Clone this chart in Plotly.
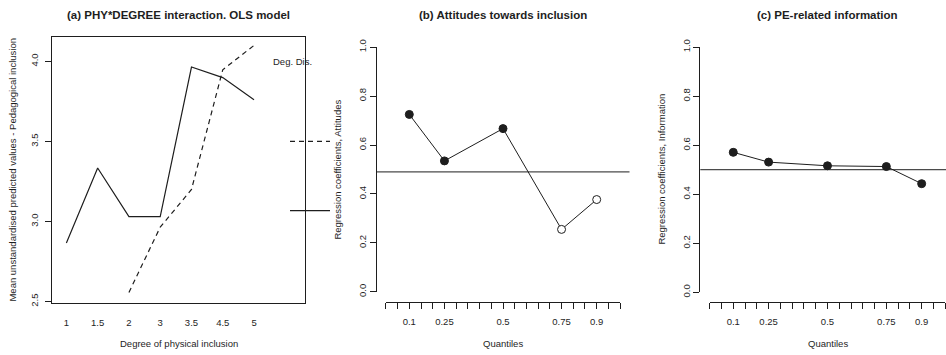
import plotly.graph_objects as go

W, H = 946, 355

# ---------------- data ----------------
# Panel (a): interaction plot
phy_levels = ["1", "1.5", "2", "3", "3.5", "4.5", "5"]
solid_levels = ["1", "1.5", "2", "3", "3.5", "4.5", "5"]
solid_values = [2.866, 3.334, 3.031, 3.031, 3.965, 3.899, 3.761]
dashed_levels = ["2", "3", "3.5", "4.5", "5"]
dashed_values = [2.557, 2.965, 3.200, 3.948, 4.100]
legend_title = "Deg. Dis."
a_yticks = [2.5, 3.0, 3.5, 4.0]

# Panels (b) and (c): quantile regression coefficients
quantiles = [0.1, 0.25, 0.5, 0.75, 0.9]
att_coef = [0.725, 0.535, 0.667, 0.255, 0.377]
att_signif = [True, True, True, False, False]
att_ols = 0.49
info_coef = [0.571, 0.531, 0.516, 0.513, 0.443]
info_signif = [True, True, True, True, True]
info_ols = 0.50
q_yticks = [0.0, 0.2, 0.4, 0.6, 0.8, 1.0]

titles = ["(a) PHY*DEGREE interaction. OLS model",
          "(b) Attitudes towards inclusion",
          "(c) PE-related information"]
xtitles = ["Degree of physical inclusion", "Quantiles", "Quantiles"]
ytitles = ["Mean unstandardised predicted values - Pedagogical inclusion",
           "Regression coefficients, Attitudes",
           "Regression coefficients, Information"]

# ---------------- style ----------------
INK = "#1e1e1e"
FONT = "Liberation Sans, Arial, Helvetica, sans-serif"
FS = 9.5


def px_x(p):
    return p / W


def px_y(p):
    return 1 - p / H


def sub_domain(dom, rng, a, b):
    lo, hi = dom
    r0, r1 = rng
    f = lambda v: lo + (v - r0) / (r1 - r0) * (hi - lo)
    return [max(0.0, f(a)), min(1.0, f(b))]


# plot regions (pixels)
a_xdom = [px_x(52), px_x(305)]
a_ydom = [px_y(306), px_y(37)]
b_xdom = [px_x(376.5), px_x(629.5)]
b_ydom = [px_y(305), px_y(37.8)]
c_xdom = [px_x(700.3), 1.0]
c_ydom = [px_y(305.5), px_y(37.8)]

a_xrange = [0.54, 8.63]
a_yrange = [2.494, 4.155]
q_xrange = [-0.04, 1.04]
c_xrange = [-0.04, 1.0033]
q_yrange = [-0.04, 1.04]

fig = go.Figure()

# ---- panel (a) traces
pos = {lvl: i + 1 for i, lvl in enumerate(phy_levels)}
fig.add_trace(go.Scatter(x=[pos[l] for l in solid_levels], y=solid_values,
                         mode="lines", line=dict(color=INK, width=1.2),
                         xaxis="x", yaxis="y", showlegend=False, hoverinfo="skip"))
fig.add_trace(go.Scatter(x=[pos[l] for l in dashed_levels], y=dashed_values,
                         mode="lines", line=dict(color=INK, width=1.2, dash="5px,4px"),
                         xaxis="x", yaxis="y", showlegend=False, hoverinfo="skip"))


def q_traces(xa, ya, coef, signif):
    fig.add_trace(go.Scatter(x=quantiles, y=coef, mode="lines",
                             line=dict(color=INK, width=1),
                             xaxis=xa, yaxis=ya, showlegend=False, hoverinfo="skip"))
    fig.add_trace(go.Scatter(x=quantiles, y=coef, mode="markers",
                             marker=dict(size=8,
                                         color=[INK if s else "white" for s in signif],
                                         line=dict(color=INK, width=1)),
                             xaxis=xa, yaxis=ya, showlegend=False, hoverinfo="skip"))


q_traces("x2", "y2", att_coef, att_signif)
q_traces("x3", "y3", info_coef, info_signif)

# empty traces to carry the decorative axis-line axes
for xa, ya in [("x4", "y2"), ("x2", "y4"), ("x5", "y3"), ("x3", "y5")]:
    fig.add_trace(go.Scatter(x=[], y=[], xaxis=xa, yaxis=ya, showlegend=False,
                             hoverinfo="skip"))

tickfont = dict(family=FONT, size=FS, color=INK)

layout = dict(
    width=W, height=H, autosize=False,
    margin=dict(l=0, r=0, t=0, b=0),
    paper_bgcolor="white", plot_bgcolor="rgba(0,0,0,0)",
    font=dict(family=FONT, size=FS, color=INK),
    showlegend=False,
)

# panel (a) axes: full box
layout["xaxis"] = dict(domain=a_xdom, range=a_xrange, anchor="y",
                       tickmode="array", tickvals=[pos[l] for l in phy_levels],
                       ticktext=phy_levels, ticks="outside", ticklen=6,
                       tickcolor="rgba(0,0,0,0)", tickfont=tickfont,
                       ticklabelstandoff=5,
                       showline=True, mirror=True, linecolor=INK, linewidth=1,
                       showgrid=False, zeroline=False)
layout["yaxis"] = dict(domain=a_ydom, range=a_yrange, anchor="x",
                       tickmode="array", tickvals=a_yticks,
                       ticktext=[f"{v:.1f}" for v in a_yticks],
                       ticks="outside", ticklen=6, tickcolor=INK, tickangle=-90,
                       tickfont=tickfont, ticklabelstandoff=3,
                       showline=True, mirror=True, linecolor=INK, linewidth=1,
                       showgrid=False, zeroline=False)


def q_axes(xn, yn, xdom, ydom, xrng):
    layout["xaxis" + xn] = dict(domain=xdom, range=xrng, anchor="y" + xn,
                                tickmode="array", tickvals=quantiles,
                                ticktext=[str(q) for q in quantiles],
                                ticks="outside", ticklen=6, tickcolor=INK,
                                minor=dict(ticks="outside", tick0=0, dtick=0.05,
                                           ticklen=6, tickcolor=INK, showgrid=False),
                                tickfont=tickfont, ticklabelstandoff=5, showline=False,
                                showgrid=False, zeroline=False)
    layout["yaxis" + yn] = dict(domain=ydom, range=q_yrange, anchor="x" + xn,
                                tickmode="array", tickvals=q_yticks,
                                ticktext=[f"{v:.1f}" for v in q_yticks],
                                ticks="outside", ticklen=6, tickcolor=INK,
                                tickangle=-90, tickfont=tickfont,
                                showline=False, showgrid=False, zeroline=False)


q_axes("2", "2", b_xdom, b_ydom, q_xrange)
q_axes("3", "3", c_xdom, c_ydom, c_xrange)


def line_axes(xn_line, yn_line, xn_main, yn_main, xdom, ydom, xrng):
    layout["xaxis" + xn_line] = dict(domain=sub_domain(xdom, xrng, 0, 1), range=[0, 1],
                                     anchor="y" + yn_main, showline=True, linecolor=INK,
                                     linewidth=1, ticks="", showticklabels=False,
                                     showgrid=False, zeroline=False)
    layout["yaxis" + yn_line] = dict(domain=sub_domain(ydom, q_yrange, 0, 1), range=[0, 1],
                                     anchor="x" + xn_main, showline=True, linecolor=INK,
                                     linewidth=1, ticks="", showticklabels=False,
                                     showgrid=False, zeroline=False)


line_axes("4", "4", "2", "2", b_xdom, b_ydom, q_xrange)
line_axes("5", "5", "3", "3", c_xdom, c_ydom, c_xrange)

shapes = []
# OLS reference lines (abline h=)
for xa, ya, val in [("x2", "y2", att_ols), ("x3", "y3", info_ols)]:
    shapes.append(dict(type="line", xref=xa + " domain", x0=0, x1=1,
                       yref=ya, y0=val, y1=val, line=dict(color=INK, width=1)))
# legend keys of panel (a)
shapes.append(dict(type="line", xref="paper", yref="paper",
                   x0=px_x(290), x1=px_x(330), y0=px_y(143), y1=px_y(143),
                   line=dict(color=INK, width=1.2, dash="5px,4px")))
shapes.append(dict(type="line", xref="paper", yref="paper",
                   x0=px_x(290), x1=px_x(330), y0=px_y(213), y1=px_y(213),
                   line=dict(color=INK, width=1.2)))
layout["shapes"] = shapes

ann = []
title_cx = [178.5, 503, 827.5]
for t, cx in zip(titles, title_cx):
    ann.append(dict(text=f"<b>{t}</b>", x=px_x(cx), y=px_y(15), xref="paper", yref="paper",
                    showarrow=False, xanchor="center", yanchor="middle",
                    font=dict(family=FONT, size=11.5, color=INK)))
for t, cx in zip(xtitles, title_cx):
    ann.append(dict(text=t, x=px_x(cx), y=px_y(347), xref="paper", yref="paper",
                    showarrow=False, xanchor="center", yanchor="middle",
                    font=dict(family=FONT, size=FS, color=INK)))
for t, cx in zip(ytitles, [13, 338, 662]):
    ann.append(dict(text=t, x=px_x(cx), y=px_y(171.5), xref="paper", yref="paper",
                    showarrow=False, xanchor="center", yanchor="middle", textangle=-90,
                    font=dict(family=FONT, size=FS, color=INK)))
ann.append(dict(text=legend_title, x=px_x(292), y=px_y(62), xref="paper", yref="paper",
                showarrow=False, xanchor="center", yanchor="middle",
                font=dict(family=FONT, size=FS, color=INK)))
layout["annotations"] = ann

fig.update_layout(**layout)
fig.write_html("out.html", config={"displayModeBar": False},
               post_script="document.body.style.margin='0';document.body.style.overflow='hidden';")
